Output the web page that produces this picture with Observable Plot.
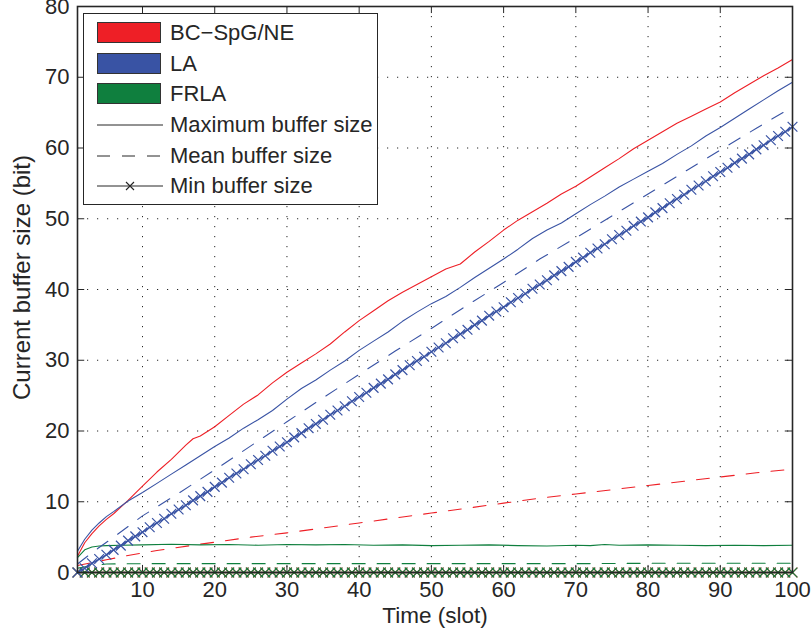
<!DOCTYPE html>
<html>
<head>
<meta charset="utf-8">
<script src="https://cdn.jsdelivr.net/npm/d3@7"></script>
<script src="https://cdn.jsdelivr.net/npm/@observablehq/plot@0.6"></script>
<style>
  html, body { margin: 0; padding: 0; background: #fff; }
  #wrap { position: relative; width: 812px; height: 634px; font-family: "Liberation Sans", Arial, Helvetica, sans-serif; color: #262626; }
  #legend { position: absolute; left: 83px; top: 13px; width: 293px; height: 190px; border: 1.5px solid #262626; background: #fff; }
  .row { position: absolute; left: 0; height: 30px; width: 100%; }
  .sw { position: absolute; left: 13px; top: 4px; width: 64px; height: 21px; border: 1px solid #333; box-sizing: border-box; }
  .ln { position: absolute; left: 13px; top: 0; }
  .lab { position: absolute; left: 86px; top: 0; line-height: 30px; font-size: 22px; white-space: nowrap; }
</style>
</head>
<body>
<div id="wrap"><div id="legend"></div></div>
<script>
// ---- data ----
const xTicks = [10, 20, 30, 40, 50, 60, 70, 80, 90, 100];
const yTicks = [0, 10, 20, 30, 40, 50, 60, 70, 80];
const slots = d3.range(1, 101);

// BC-SpG/NE (red)
const redMaxX = [1,2,3,4,5,6,8,10,12,14,16,17,18,20,22,24,26,28,30,32,34,36,38,40,42,44,46,48,50,52,54,56,58,60,62,64,66,68,70,72,74,76,78,80,82,84,86,88,90,92,94,96,98,100];
const redMax  = [2.3,4.2,5.5,6.6,7.5,8.3,10.2,12.2,14.2,16.0,18.0,18.9,19.3,20.6,22.2,23.8,25.1,26.8,28.3,29.6,30.9,32.3,34.0,35.6,37.0,38.4,39.6,40.7,41.8,42.9,43.6,45.3,46.8,48.4,49.8,51.0,52.2,53.5,54.6,55.9,57.2,58.5,59.9,61.1,62.3,63.5,64.5,65.5,66.5,67.8,69.0,70.2,71.3,72.5];
const redMeanX = [1,3,5,8,12,18,25,30,35,40,45,50,55,60,65,70,75,80,85,90,95,100];
const redMean  = [1.0,1.4,1.8,2.4,3.1,4.0,5.0,5.6,6.3,7.0,7.7,8.4,9.1,9.8,10.5,11.1,11.7,12.3,12.9,13.5,14.1,14.6];
const redMin = [0,0,0,0,0,0,0,0,0,0, 0,0,0,0,0,0,0,0,0,0, 0,0,0,0,0,0,0,0,0,0, 0,0,0,0,0,0,0,0,0,0, 0,0,0,0,0,0,0,0,0,0,
                0,0,0,0,0,0,0,0,0,0, 0,0,0,0,0,0,0,0,0,0, 0,0,0,0,0,0,0,0,0,0, 0,0,0,0,0,0,0,0,0,0, 0,0,0,0,0,0,0,0,0,0];

// LA (blue)
const blueMaxX = [1,2,3,4,5,6,8,10,12,14,16,18,20,22,24,26,28,30,32,34,36,38,40,42,44,46,48,50,52,54,56,58,60,62,64,66,68,70,72,74,76,78,80,82,84,86,88,90,92,94,96,98,100];
const blueMax  = [3.0,4.7,6.0,7.0,7.9,8.6,10.1,11.3,12.6,13.9,15.2,16.5,17.8,19.0,20.4,21.6,22.9,24.5,26.0,27.2,28.6,29.9,31.4,32.7,34.0,35.5,36.8,38.0,39.0,40.3,41.7,43.0,44.3,45.7,47.2,48.4,49.4,50.7,52.0,53.2,54.5,55.6,56.7,57.8,59.1,60.3,61.7,62.9,64.2,65.5,66.8,68.1,69.3];
const blueMeanX = [1,3,6,10,15,20,25,30,35,40,45,50,55,60,65,70,75,80,85,90,95,100];
const blueMean  = [1.2,2.8,5.0,8.0,11.2,14.5,17.9,21.3,24.7,28.0,31.3,34.5,37.8,41.0,44.3,47.3,50.4,53.5,56.6,59.7,62.8,65.8];
const blueMin = [0,0.6,1.3,1.9,2.5,3.2,3.8,4.5,5.1,5.7, 6.4,7.0,7.6,8.3,8.9,9.5,10.2,10.8,11.4,12.1,
                 12.7,13.4,14.0,14.6,15.3,15.9,16.5,17.2,17.8,18.4, 19.1,19.7,20.4,21.0,21.6,22.3,22.9,23.5,24.2,24.8,
                 25.4,26.1,26.7,27.3,28.0,28.6,29.3,29.9,30.5,31.2, 31.8,32.4,33.1,33.7,34.3,35.0,35.6,36.3,36.9,37.5,
                 38.2,38.8,39.4,40.1,40.7,41.3,42.0,42.6,43.2,43.9, 44.5,45.2,45.8,46.4,47.1,47.7,48.3,49.0,49.6,50.2,
                 50.9,51.5,52.2,52.8,53.4,54.1,54.7,55.3,56.0,56.6, 57.2,57.9,58.5,59.1,59.8,60.4,61.1,61.7,62.3,63.0];

// FRLA (green)
const greenMaxX = [1,2,3,4,5,7,10,14,18,22,26,30,34,38,42,46,50,54,58,62,66,70,72,74,76,80,84,88,92,96,100];
const greenMax  = [2.1,3.2,3.6,3.75,3.8,3.85,3.9,4.0,3.9,3.95,3.85,3.95,3.9,3.95,3.85,3.9,3.8,3.85,3.9,3.8,3.75,3.85,3.8,3.95,3.85,3.9,3.85,3.8,3.85,3.8,3.85];
const greenMeanX = [1,3,5,10,20,30,40,50,60,70,80,90,100];
const greenMean  = [0.6,1.0,1.2,1.25,1.25,1.25,1.25,1.25,1.25,1.25,1.3,1.3,1.3];
const greenMin = [0,0,0,0,0,0,0,0,0,0, 0,0,0,0,0,0,0,0,0,0, 0,0,0,0,0,0,0,0,0,0, 0,0,0,0,0,0,0,0,0,0, 0,0,0,0,0,0,0,0,0,0,
                  0,0,0,0,0,0,0,0,0,0, 0,0,0,0,0,0,0,0,0,0, 0,0,0,0,0,0,0,0,0,0, 0,0,0,0,0,0,0,0,0,0, 0,0,0,0,0,0,0,0,0,0];

const seriesNames = ["BC\u2212SpG/NE", "LA", "FRLA"];
const colors = ["#ee1f26", "#3953a4", "#0f7f3e"];
const styleNames = ["Maximum buffer size", "Mean buffer size", "Min buffer size"];

// ---- build tables ----
const zip = (xs, ys) => xs.map((x, i) => ({x, y: ys[i]}));
const ink = "#262626";
const dash = "13,12";
const gridX = xTicks.filter(d => d < 100);
const gridY = yTicks.filter(d => d > 0 && d < 80);

function seriesMarks(maxX, maxY, meanX, meanY, minY, color) {
  const minData = zip(slots, minY);
  return [
    Plot.line(zip(maxX, maxY), {x: "x", y: "y", stroke: color, strokeWidth: 1.1}),
    Plot.line(zip(meanX, meanY), {x: "x", y: "y", stroke: color, strokeWidth: 1.1, strokeDasharray: dash}),
    Plot.line(minData, {x: "x", y: "y", stroke: color, strokeWidth: 1.4}),
    Plot.dot(minData, {x: "x", y: "y", symbol: "times", r: 4.5, stroke: color, strokeWidth: 1.2, fill: "none"})
  ];
}

const chart = Plot.plot({
  width: 812,
  height: 634,
  marginLeft: 77,
  marginRight: 20,
  marginTop: 6,
  marginBottom: 62,
  style: {fontFamily: "'Liberation Sans', Arial, Helvetica, sans-serif", fontSize: "22px", color: ink, background: "#fff"},
  x: {domain: [1, 100], ticks: xTicks, tickSize: 0, tickPadding: 9, label: null},
  y: {domain: [0, 80], ticks: yTicks, tickSize: 0, tickPadding: 8, label: null},
  marks: [
    Plot.ruleX(gridX, {stroke: ink, strokeWidth: 1, strokeDasharray: "1.2,8.8"}),
    Plot.ruleY(gridY, {stroke: ink, strokeWidth: 1, strokeDasharray: "1.2,8.8"}),
    // inward tick marks (MATLAB style)
    Plot.ruleX(gridX, {x: d => d, y1: 0, y2: 1, stroke: ink, strokeWidth: 1}),
    Plot.ruleX(gridX, {x: d => d, y1: 79, y2: 80, stroke: ink, strokeWidth: 1}),
    Plot.ruleY(gridY, {y: d => d, x1: 1, x2: 2, stroke: ink, strokeWidth: 1}),
    Plot.ruleY(gridY, {y: d => d, x1: 99, x2: 100, stroke: ink, strokeWidth: 1}),
    ...seriesMarks(redMaxX, redMax, redMeanX, redMean, redMin, colors[0]),
    ...seriesMarks(greenMaxX, greenMax, greenMeanX, greenMean, greenMin, colors[2]),
    ...seriesMarks(blueMaxX, blueMax, blueMeanX, blueMean, blueMin, colors[1]),
    Plot.frame({stroke: ink, strokeWidth: 1.6}),
    Plot.text(["Time (slot)"], {frameAnchor: "bottom", textAnchor: "middle", dy: 50, lineAnchor: "bottom", fill: ink, fontSize: 22.5}),
    Plot.text(["Current buffer size (bit)"], {frameAnchor: "left", textAnchor: "middle", lineAnchor: "middle", dx: -55, dy: -12, rotate: -90, fill: ink, fontSize: 24})
  ]
});
const wrap = document.getElementById("wrap");
wrap.insertBefore(chart, wrap.firstChild);

// ---- legend ----
const legend = document.getElementById("legend");
const rowTops = [4, 35, 65, 96, 127, 157];
seriesNames.forEach((name, i) => {
  const row = document.createElement("div");
  row.className = "row";
  row.style.top = rowTops[i] + "px";
  row.innerHTML = `<div class="sw" style="background:${colors[i]}"></div><div class="lab">${name}</div>`;
  legend.appendChild(row);
});
styleNames.forEach((name, j) => {
  const row = document.createElement("div");
  row.className = "row";
  row.style.top = rowTops[3 + j] + "px";
  let svg = `<svg class="ln" width="66" height="30">`;
  if (j === 0) svg += `<line x1="0" y1="15" x2="66" y2="15" stroke="${ink}" stroke-width="1"/>`;
  if (j === 1) svg += `<line x1="0" y1="15" x2="66" y2="15" stroke="${ink}" stroke-width="1" stroke-dasharray="13,12"/>`;
  if (j === 2) svg += `<line x1="0" y1="15" x2="66" y2="15" stroke="${ink}" stroke-width="1"/><path d="M29,11L37,19M37,11L29,19" stroke="${ink}" stroke-width="1.1"/>`;
  svg += `</svg>`;
  row.innerHTML = svg + `<div class="lab">${name}</div>`;
  legend.appendChild(row);
});
</script>
</body>
</html>
